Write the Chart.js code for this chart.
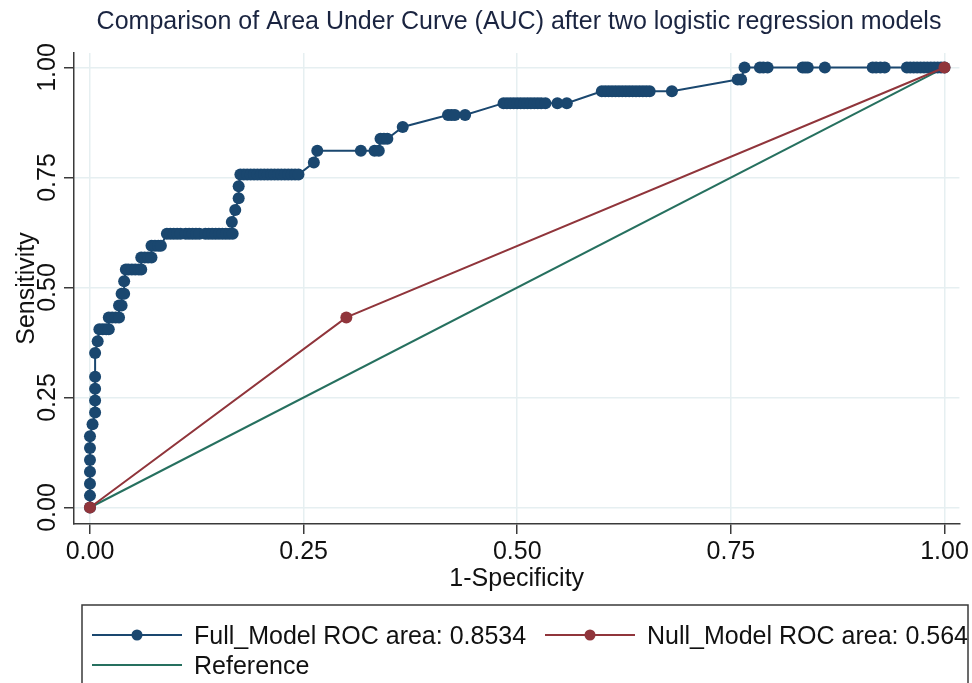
<!DOCTYPE html>
<html>
<head>
<meta charset="utf-8">
<title>ROC comparison</title>
<script src="https://cdn.jsdelivr.net/npm/chart.js@4.4.1/dist/chart.umd.min.js"></script>
<style>
  body { margin: 0; background: #fff; }
  #wrap { width: 972px; height: 683px; }
</style>
</head>
<body>
<div id="wrap"><canvas id="rocChart" width="972" height="683"></canvas></div>
<script>
// ROC points (1-specificity, sensitivity)
const fullFpr = [0, 0, 0, 0, 0, 0, 0, 0.003, 0.006, 0.006, 0.006, 0.006, 0.006, 0.009,
  0.011, 0.015, 0.019, 0.022, 0.022, 0.026, 0.030, 0.034, 0.034, 0.037, 0.037, 0.040, 0.040,
  0.042, 0.045, 0.049, 0.053, 0.057, 0.060, 0.060, 0.064, 0.068, 0.072, 0.072, 0.076, 0.080, 0.083,
  0.090, 0.094, 0.098, 0.102, 0.106, 0.112, 0.116, 0.120, 0.124, 0.128, 0.135, 0.139, 0.143,
  0.147, 0.151, 0.155, 0.159, 0.163, 0.167, 0.166, 0.170, 0.174, 0.174,
  0.176, 0.180, 0.184, 0.188, 0.192, 0.196, 0.200, 0.204, 0.208, 0.212, 0.216, 0.220, 0.224,
  0.228, 0.232, 0.236, 0.240, 0.244, 0.262, 0.266, 0.317, 0.333, 0.338, 0.340, 0.344, 0.348,
  0.366, 0.419, 0.423, 0.427, 0.439, 0.484, 0.488, 0.492, 0.496, 0.500, 0.504, 0.508, 0.512,
  0.516, 0.520, 0.524, 0.528, 0.533, 0.547, 0.558, 0.599, 0.603, 0.607, 0.611, 0.615, 0.619,
  0.623, 0.627, 0.631, 0.635, 0.639, 0.643, 0.647, 0.651, 0.655, 0.681, 0.758, 0.762,
  0.766, 0.784, 0.788, 0.793, 0.834, 0.837, 0.840, 0.860, 0.916, 0.920, 0.925, 0.930,
  0.956, 0.960, 0.964, 0.968, 0.972, 0.976, 0.980, 0.984, 0.988, 0.992, 0.996, 1];
const fullTpr = [0, 0.027, 0.054, 0.081, 0.108, 0.135, 0.162, 0.189, 0.216, 0.243, 0.270, 0.297, 0.351, 0.378,
  0.405, 0.405, 0.405, 0.405, 0.432, 0.432, 0.432, 0.432, 0.459, 0.459, 0.486, 0.486, 0.514,
  0.541, 0.541, 0.541, 0.541, 0.541, 0.541, 0.568, 0.568, 0.568, 0.568, 0.595, 0.595, 0.595, 0.595,
  0.622, 0.622, 0.622, 0.622, 0.622, 0.622, 0.622, 0.622, 0.622, 0.622, 0.622, 0.622, 0.622,
  0.622, 0.622, 0.622, 0.622, 0.622, 0.622, 0.649, 0.676, 0.703, 0.730,
  0.757, 0.757, 0.757, 0.757, 0.757, 0.757, 0.757, 0.757, 0.757, 0.757, 0.757, 0.757, 0.757,
  0.757, 0.757, 0.757, 0.757, 0.757, 0.784, 0.811, 0.811, 0.811, 0.811, 0.838, 0.838, 0.838,
  0.865, 0.892, 0.892, 0.892, 0.892, 0.919, 0.919, 0.919, 0.919, 0.919, 0.919, 0.919, 0.919,
  0.919, 0.919, 0.919, 0.919, 0.919, 0.919, 0.919, 0.946, 0.946, 0.946, 0.946, 0.946, 0.946,
  0.946, 0.946, 0.946, 0.946, 0.946, 0.946, 0.946, 0.946, 0.946, 0.946, 0.973, 0.973,
  1, 1, 1, 1, 1, 1, 1, 1, 1, 1, 1, 1,
  1, 1, 1, 1, 1, 1, 1, 1, 1, 1, 1, 1];
const nullFpr = [0, 0.300, 1];
const nullTpr = [0, 0.432, 1];
const refFpr = [0, 1];
const refTpr = [0, 1];

const tickValues = [0, 0.25, 0.5, 0.75, 1];
const tickLabels = ['0.00', '0.25', '0.50', '0.75', '1.00'];
const seriesLabels = ['Full_Model ROC area: 0.8534', 'Null_Model ROC area: 0.564', 'Reference'];
const titleText = 'Comparison of Area Under Curve (AUC) after two logistic regression models';

const fontFam = '"Liberation Sans", Arial, sans-serif';
const navy = '#1a476f', maroon = '#90353b', green = '#26705f';
const axisColor = '#3a3a3a', gridColor = '#e6eff1';

function toPoints(xs, ys) {
  return xs.map((x, i) => ({ x: x, y: ys[i] }));
}

// titles, vertical y tick labels and the boxed legend
const stataText = {
  id: 'stataText',
  afterDraw(chart) {
    const c = chart.ctx;
    const area = chart.chartArea;
    const ys = chart.scales.y;
    c.save();
    c.font = '25px ' + fontFam;
    c.textBaseline = 'alphabetic';

    c.fillStyle = '#1a2440';
    c.textAlign = 'center';
    c.fillText(titleText, 519, 29);

    c.fillStyle = '#111';
    c.fillText('1-Specificity', (area.left + area.right) / 2, 586);

    // rotated labels
    tickValues.forEach((v, i) => {
      c.save();
      c.translate(55, ys.getPixelForValue(v));
      c.rotate(-Math.PI / 2);
      c.fillText(tickLabels[i], 0, 0);
      c.restore();
    });
    c.save();
    c.translate(34, (area.top + area.bottom) / 2);
    c.rotate(-Math.PI / 2);
    c.fillText('Sensitivity', 0, 0);
    c.restore();

    // legend box
    c.strokeStyle = axisColor;
    c.lineWidth = 1.5;
    c.strokeRect(82, 605, 886, 100);

    const items = [
      { x: 92, y: 635, color: navy, dot: true, text: seriesLabels[0] },
      { x: 545, y: 635, color: maroon, dot: true, text: seriesLabels[1] },
      { x: 92, y: 665, color: green, dot: false, text: seriesLabels[2] }
    ];
    c.textAlign = 'left';
    items.forEach(it => {
      c.strokeStyle = it.color;
      c.lineWidth = 2;
      c.beginPath();
      c.moveTo(it.x, it.y);
      c.lineTo(it.x + 90, it.y);
      c.stroke();
      if (it.dot) {
        c.fillStyle = it.color;
        c.beginPath();
        c.arc(it.x + 45, it.y, 5.5, 0, Math.PI * 2);
        c.fill();
      }
      c.fillStyle = '#111';
      c.fillText(it.text, it.x + 102, it.y + 9);
    });
    c.restore();
  }
};

new Chart(document.getElementById('rocChart'), {
  type: 'scatter',
  data: {
    datasets: [
      {
        label: seriesLabels[1],
        data: toPoints(nullFpr, nullTpr),
        showLine: true,
        borderColor: maroon,
        backgroundColor: maroon,
        borderWidth: 2,
        pointRadius: 6,
        pointBorderWidth: 0,
        order: 0
      },
      {
        label: seriesLabels[0],
        data: toPoints(fullFpr, fullTpr),
        showLine: true,
        borderColor: navy,
        backgroundColor: navy,
        borderWidth: 2,
        pointRadius: 6,
        pointBorderWidth: 0,
        order: 1
      },
      {
        label: seriesLabels[2],
        data: toPoints(refFpr, refTpr),
        showLine: true,
        borderColor: green,
        borderWidth: 2,
        pointRadius: 0,
        order: 2
      }
    ]
  },
  options: {
    responsive: false,
    animation: false,
    layout: { padding: { left: 0, top: 53, right: 11, bottom: 0 } },
    plugins: {
      legend: { display: false },
      title: { display: false },
      tooltip: { enabled: false }
    },
    scales: {
      x: {
        type: 'linear',
        min: -0.0187,
        max: 1.0175,
        afterBuildTicks: s => { s.ticks = tickValues.map(v => ({ value: v })); },
        afterFit: s => { s.height = 159; },
        ticks: {
          color: '#111',
          font: { family: fontFam, size: 25 },
          padding: 3,
          maxRotation: 0,
          callback: (v) => tickLabels[tickValues.indexOf(v)]
        },
        grid: { color: gridColor, lineWidth: 1.5, tickColor: axisColor, tickLength: 10, tickWidth: 1.5 },
        border: { color: axisColor, width: 1.5 }
      },
      y: {
        type: 'linear',
        min: -0.0375,
        max: 1.033,
        afterBuildTicks: s => { s.ticks = tickValues.map(v => ({ value: v })); },
        afterFit: s => { s.width = 74; },
        ticks: { display: false },
        grid: { color: gridColor, lineWidth: 1.5, tickColor: axisColor, tickLength: 10, tickWidth: 1.5 },
        border: { color: axisColor, width: 1.5 }
      }
    }
  },
  plugins: [stataText]
});
</script>
</body>
</html>
